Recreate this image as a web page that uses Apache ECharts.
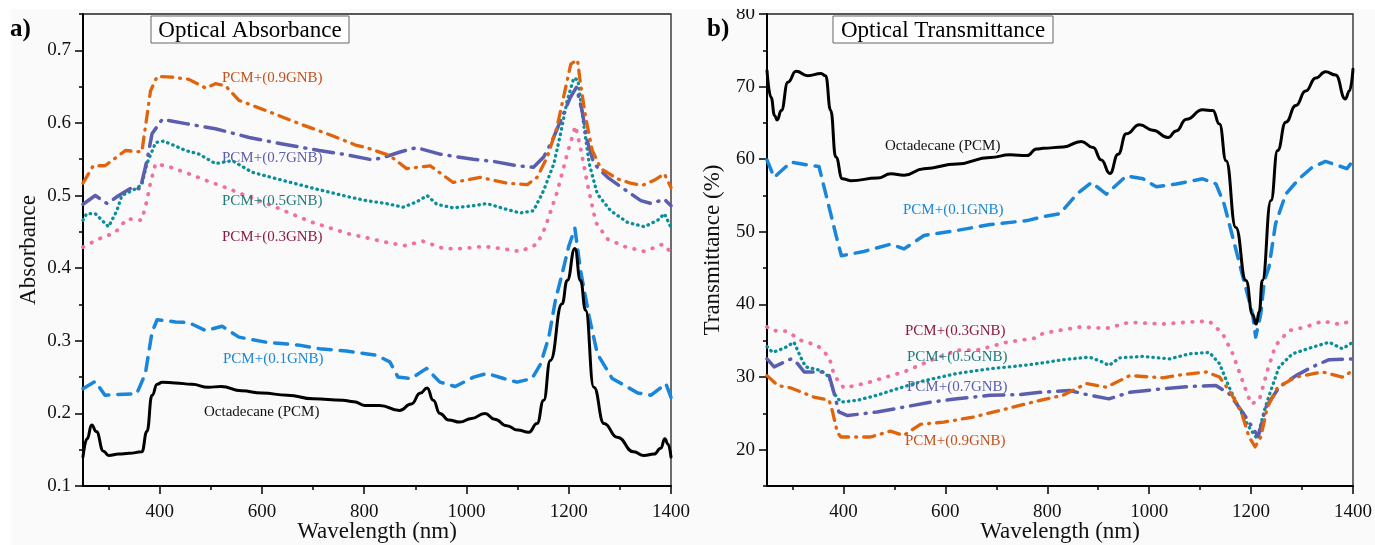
<!DOCTYPE html>
<html>
<head>
<meta charset="utf-8">
<script src="https://cdn.jsdelivr.net/npm/echarts@6/dist/echarts.min.js"></script>
<style>
html,body{margin:0;padding:0;background:#fff;}
#c{width:1375px;height:545px;}
</style>
</head>
<body>
<div id="c"></div>
<script>
// ---------- DATA ----------
var xMajorTicks = [400, 600, 800, 1000, 1200, 1400];
var xMinorTicks = [300, 500, 700, 900, 1100, 1300];
var absMajorTicks = [0.1, 0.2, 0.3, 0.4, 0.5, 0.6, 0.7];
var absMinorTicks = [0.15, 0.25, 0.35, 0.45, 0.55, 0.65, 0.75];
var trMajorTicks = [20, 30, 40, 50, 60, 70, 80];
var trMinorTicks = [15, 25, 35, 45, 55, 65, 75];

var seriesNames = ['Octadecane (PCM)', 'PCM+(0.1GNB)', 'PCM+(0.3GNB)', 'PCM+(0.5GNB)', 'PCM+(0.7GNB)', 'PCM+(0.9GNB)'];

// Panel a) Optical absorbance
var absOcta = [[250,0.140],[258,0.165],[267,0.184],[276,0.175],[290,0.148],[300,0.142],[320,0.144],[340,0.145],[365,0.147],[375,0.175],[385,0.225],[395,0.240],[405,0.243],[430,0.242],[463,0.240],[495,0.236],[520,0.237],[560,0.231],[600,0.228],[650,0.225],[700,0.220],[758,0.218],[780,0.216],[801,0.211],[830,0.211],[869,0.204],[892,0.213],[910,0.228],[923,0.235],[935,0.218],[948,0.200],[965,0.191],[987,0.188],[1010,0.193],[1036,0.200],[1055,0.192],[1079,0.183],[1100,0.177],[1122,0.174],[1138,0.186],[1151,0.218],[1164,0.273],[1187,0.351],[1197,0.383],[1212,0.427],[1223,0.383],[1233,0.342],[1249,0.236],[1269,0.186],[1295,0.167],[1327,0.147],[1347,0.142],[1367,0.144],[1380,0.152],[1388,0.165],[1394,0.158],[1400,0.140]];
var absGnb01 = [[250,0.234],[274,0.244],[293,0.225],[319,0.226],[355,0.227],[372,0.255],[385,0.312],[395,0.329],[431,0.326],[457,0.325],[490,0.314],[522,0.320],[555,0.305],[608,0.298],[673,0.294],[712,0.289],[765,0.286],[824,0.280],[850,0.271],[866,0.250],[892,0.248],[922,0.262],[948,0.243],[978,0.237],[1014,0.250],[1040,0.255],[1073,0.248],[1099,0.243],[1128,0.248],[1145,0.268],[1161,0.305],[1174,0.356],[1187,0.392],[1200,0.430],[1212,0.455],[1223,0.397],[1240,0.333],[1256,0.282],[1285,0.248],[1308,0.239],[1335,0.228],[1361,0.225],[1390,0.241],[1400,0.222]];
var absGnb03 = [[250,0.429],[280,0.440],[313,0.449],[336,0.468],[365,0.466],[375,0.493],[382,0.518],[392,0.544],[421,0.539],[457,0.530],[490,0.521],[529,0.511],[568,0.500],[627,0.484],[667,0.472],[699,0.463],[739,0.454],[771,0.447],[804,0.442],[840,0.436],[879,0.431],[915,0.437],[955,0.427],[994,0.427],[1033,0.430],[1069,0.427],[1105,0.423],[1138,0.433],[1154,0.456],[1177,0.504],[1197,0.557],[1213,0.596],[1223,0.566],[1236,0.518],[1253,0.463],[1276,0.440],[1312,0.429],[1348,0.423],[1384,0.433],[1400,0.422]];
var absGnb05 = [[250,0.466],[257,0.475],[274,0.475],[300,0.457],[316,0.479],[326,0.500],[352,0.509],[365,0.515],[375,0.544],[392,0.573],[408,0.575],[451,0.562],[477,0.557],[509,0.544],[542,0.548],[581,0.532],[640,0.521],[706,0.509],[771,0.498],[804,0.493],[843,0.489],[876,0.484],[902,0.491],[923,0.500],[942,0.488],[974,0.483],[1014,0.486],[1040,0.489],[1073,0.482],[1105,0.476],[1131,0.479],[1151,0.507],[1171,0.544],[1184,0.585],[1197,0.631],[1210,0.662],[1218,0.659],[1230,0.594],[1240,0.544],[1256,0.502],[1282,0.479],[1315,0.463],[1348,0.457],[1374,0.466],[1387,0.475],[1400,0.456]];
var absGnb07 = [[250,0.488],[274,0.500],[297,0.489],[320,0.500],[346,0.511],[362,0.509],[375,0.548],[385,0.585],[405,0.605],[451,0.599],[509,0.592],[575,0.580],[640,0.571],[712,0.562],[758,0.557],[817,0.549],[840,0.553],[870,0.560],[902,0.566],[948,0.557],[1013,0.550],[1053,0.547],[1099,0.541],[1131,0.539],[1151,0.553],[1168,0.576],[1184,0.603],[1203,0.635],[1215,0.649],[1226,0.617],[1236,0.576],[1249,0.544],[1276,0.525],[1308,0.509],[1341,0.493],[1361,0.489],[1387,0.495],[1400,0.486]];
var absGnb09 = [[250,0.517],[270,0.541],[293,0.541],[333,0.562],[365,0.560],[372,0.594],[382,0.644],[395,0.664],[424,0.663],[457,0.660],[490,0.648],[509,0.654],[529,0.651],[555,0.631],[608,0.617],[673,0.599],[739,0.582],[785,0.569],[804,0.566],[850,0.555],[883,0.537],[929,0.541],[974,0.518],[1027,0.525],[1079,0.517],[1119,0.515],[1138,0.525],[1158,0.553],[1177,0.594],[1194,0.649],[1204,0.681],[1217,0.687],[1223,0.654],[1233,0.608],[1246,0.562],[1263,0.537],[1295,0.523],[1321,0.517],[1344,0.514],[1367,0.521],[1387,0.530],[1400,0.511]];

// Panel b) Optical transmittance (%)
var trOcta = [[250,72.2],[258,68.5],[265,66.0],[270,65.4],[278,66.7],[291,70.6],[307,72.1],[330,71.5],[356,71.8],[365,71.5],[375,66.7],[385,60.3],[398,57.3],[414,57.05],[467,57.4],[493,58.0],[519,57.8],[558,58.7],[623,59.35],[688,60.25],[727,60.6],[760,60.5],[779,61.4],[792,61.5],[831,61.7],[867,62.45],[890,61.6],[906,59.9],[923,58.05],[939,60.7],[955,63.5],[981,64.75],[1007,64.0],[1037,63.0],[1053,63.9],[1073,65.5],[1105,66.8],[1125,66.7],[1138,64.85],[1151,59.8],[1170,50.6],[1190,43.3],[1203,38.6],[1210,37.3],[1216,39.0],[1222,43.3],[1239,54.3],[1252,61.2],[1268,65.1],[1288,67.4],[1307,69.4],[1327,71.2],[1346,72.05],[1366,71.6],[1385,68.3],[1393,69.4],[1400,72.4]];
var trGnb01 = [[250,59.9],[264,57.5],[297,59.6],[330,59.2],[352,59.0],[375,52.5],[388,48.8],[396,46.7],[440,47.3],[493,48.3],[519,47.65],[558,49.5],[623,50.2],[688,51.0],[760,51.55],[792,52.1],[825,52.5],[858,55.2],[887,56.8],[916,55.2],[955,57.7],[988,57.3],[1014,56.2],[1053,56.6],[1105,57.3],[1131,56.6],[1147,53.85],[1164,49.25],[1185,43.5],[1203,38.7],[1209,35.5],[1219,38.7],[1226,43.3],[1235,45.1],[1248,51.1],[1268,55.2],[1294,57.3],[1320,58.9],[1346,59.7],[1372,59.1],[1388,58.7],[1400,59.8]];
var trGnb03 = [[250,36.9],[261,36.4],[290,36.3],[316,35.05],[349,34.35],[372,32.75],[382,30.2],[401,28.5],[447,29.2],[479,29.9],[518,30.7],[571,32.3],[623,33.7],[662,33.7],[721,34.8],[779,35.4],[792,36.05],[864,36.9],[916,36.7],[962,37.55],[1027,37.3],[1072,37.55],[1118,37.7],[1144,36.0],[1164,33.2],[1183,29.5],[1200,26.3],[1216,26.8],[1232,30.9],[1248,34.35],[1274,36.4],[1307,36.9],[1340,37.7],[1375,37.25],[1400,37.8]];
var trGnb05 = [[250,34.2],[261,33.4],[284,34.0],[303,34.8],[316,32.75],[326,31.4],[356,30.9],[372,30.0],[382,27.7],[395,26.55],[427,26.8],[466,27.5],[506,28.4],[558,29.5],[623,30.5],[688,31.15],[753,31.6],[786,31.9],[831,32.4],[883,32.75],[909,32.05],[921,31.6],[942,32.65],[988,32.85],[1040,32.5],[1079,33.2],[1118,33.4],[1138,31.85],[1157,28.6],[1177,25.65],[1196,23.1],[1212,21.5],[1226,25.4],[1239,28.2],[1255,31.4],[1281,33.2],[1320,34.1],[1353,34.8],[1379,33.9],[1400,34.8]];
var trGnb07 = [[250,32.5],[264,31.4],[297,32.5],[310,31.85],[323,30.7],[362,30.7],[372,30.2],[382,27.7],[391,25.2],[408,24.7],[466,25.2],[518,25.85],[571,26.55],[623,27.0],[688,27.5],[747,27.6],[786,27.9],[844,28.15],[883,27.5],[921,27.0],[962,27.9],[1027,28.4],[1079,28.7],[1131,28.85],[1157,27.7],[1183,25.2],[1200,23.35],[1214,21.8],[1229,25.85],[1255,28.6],[1288,30.2],[1320,31.4],[1353,32.4],[1400,32.5]];
var trGnb09 = [[250,30.2],[271,28.85],[297,28.5],[342,27.25],[372,26.8],[378,25.4],[388,22.4],[395,21.75],[453,21.75],[492,22.55],[518,21.95],[551,23.5],[597,23.8],[655,24.5],[721,25.65],[786,26.8],[831,27.5],[877,29.1],[916,28.6],[962,30.2],[1027,29.9],[1066,30.35],[1112,30.7],[1138,30.0],[1157,28.15],[1180,25.4],[1196,21.75],[1208,20.4],[1219,21.75],[1232,25.85],[1252,28.6],[1288,30.0],[1340,30.7],[1379,30.0],[1400,30.9]];

// ---------- STYLE ----------
var SERIF = "'Liberation Serif','Times New Roman','DejaVu Serif',serif";
var C_BLACK = '#000000', C_BLUE = '#1a86d9', C_PINK = '#f0709f', C_TEAL = '#0a8f9a', C_SLATE = '#5b5eae', C_ORANGE = '#e0640c';

var chart = echarts.init(document.getElementById('c'), null, {renderer: 'canvas'});

function plain(v) { return String(v); }

function xAxes(g) {
  return [
    {type: 'value', gridIndex: g, position: 'bottom', min: 250, max: 1400,
      name: 'Wavelength (nm)', nameLocation: 'middle', nameGap: 34, nameMoveOverlap: false,
      nameTextStyle: {fontFamily: SERIF, fontSize: 23, color: '#111'},
      axisLine: {show: true, onZero: false, lineStyle: {color: '#000', width: 2}},
      axisTick: {show: true, length: 8, customValues: xMajorTicks, lineStyle: {color: '#000', width: 1.5}},
      axisLabel: {customValues: xMajorTicks, formatter: plain, fontFamily: SERIF, fontSize: 19, color: '#111', margin: 17},
      splitLine: {show: false}},
    {type: 'value', gridIndex: g, position: 'bottom', offset: 0, min: 250, max: 1400,
      axisLine: {show: false, onZero: false},
      axisTick: {show: true, length: 4, customValues: xMinorTicks, lineStyle: {color: '#000', width: 1.5}},
      axisLabel: {show: false}, splitLine: {show: false}}
  ];
}
function yAxes(g, mn, mx, major, minor, name) {
  return [
    {type: 'value', gridIndex: g, position: 'left', min: mn, max: mx,
      name: name, nameLocation: 'middle', nameGap: 43,
      nameTextStyle: {fontFamily: SERIF, fontSize: 23, color: '#111'},
      axisLine: {show: true, onZero: false, lineStyle: {color: '#000', width: 2}},
      axisTick: {show: true, length: 8, customValues: major, lineStyle: {color: '#000', width: 1.5}},
      axisLabel: {customValues: major, formatter: plain, fontFamily: SERIF, fontSize: 19, color: '#111', margin: 12},
      splitLine: {show: false}},
    {type: 'value', gridIndex: g, position: 'left', offset: 0, min: mn, max: mx,
      axisLine: {show: false, onZero: false},
      axisTick: {show: true, length: 4, customValues: minor, lineStyle: {color: '#000', width: 1.5}},
      axisLabel: {show: false}, splitLine: {show: false}}
  ];
}

function mk(name, data, xi, yi, color, width, dash, smooth, z) {
  return {
    name: name, type: 'line', xAxisIndex: xi, yAxisIndex: yi, data: data,
    showSymbol: false, symbol: 'none', smooth: smooth ? 0.5 : false,
    smoothMonotone: smooth ? 'x' : undefined, z: z || 2,
    lineStyle: {color: color, width: width, type: dash, cap: 'round', join: 'round'},
    silent: true
  };
}

var DASH_BLUE = [13, 9];
var DOT_PINK = [0.5, 9];
var DOT_TEAL = [0.5, 5];
var DASHDOT_SLATE = [20, 8, 1, 8];
var DASHDOT_ORANGE = [11, 7, 1, 7];

var series = [
  mk(seriesNames[1], absGnb01, 0, 0, C_BLUE, 3.5, DASH_BLUE, false, 2),
  mk(seriesNames[2], absGnb03, 0, 0, C_PINK, 3.8, DOT_PINK, false, 2),
  mk(seriesNames[3], absGnb05, 0, 0, C_TEAL, 3.3, DOT_TEAL, false, 2),
  mk(seriesNames[4], absGnb07, 0, 0, C_SLATE, 3.5, DASHDOT_SLATE, false, 2),
  mk(seriesNames[5], absGnb09, 0, 0, C_ORANGE, 3.3, DASHDOT_ORANGE, false, 2),
  mk(seriesNames[0], absOcta, 0, 0, C_BLACK, 3, 'solid', true, 3),
  mk(seriesNames[1], trGnb01, 2, 2, C_BLUE, 3.5, DASH_BLUE, false, 2),
  mk(seriesNames[2], trGnb03, 2, 2, C_PINK, 3.8, DOT_PINK, false, 2),
  mk(seriesNames[3], trGnb05, 2, 2, C_TEAL, 3.3, DOT_TEAL, false, 2),
  mk(seriesNames[4], trGnb07, 2, 2, C_SLATE, 3.5, DASHDOT_SLATE, false, 2),
  mk(seriesNames[5], trGnb09, 2, 2, C_ORANGE, 3.3, DASHDOT_ORANGE, false, 2),
  mk(seriesNames[0], trOcta, 2, 2, C_BLACK, 3, 'solid', true, 3)
];

function lbl(text, x, y, color) {
  return {type: 'text', x: x, y: y, z: 50,
    style: {text: text, fill: color, font: '15px ' + SERIF, textVerticalAlign: 'middle', textAlign: 'left'}};
}
function titleBox(text, x, y, w, h) {
  return {type: 'group', x: x, y: y, z: 60, children: [
    {type: 'rect', shape: {x: 0, y: 0, width: w, height: h}, style: {fill: '#ffffff', stroke: '#666', lineWidth: 1}},
    {type: 'text', x: w / 2, y: h / 2 + 1, style: {text: text, fill: '#000', font: '23px ' + SERIF, textAlign: 'center', textVerticalAlign: 'middle'}}
  ]};
}

var graphics = [
  {type: 'rect', z: 100, shape: {x: 0, y: 0, width: 1375, height: 9}, style: {fill: '#ffffff'}},
  {type: 'rect', z: -1, shape: {x: 0, y: 0, width: 11, height: 545}, style: {fill: '#ffffff'}},
  {type: 'text', x: 10, y: 30, z: 60, style: {text: 'a)', fill: '#000', font: 'bold 25px ' + SERIF, textVerticalAlign: 'middle'}},
  {type: 'text', x: 707, y: 30, z: 60, style: {text: 'b)', fill: '#000', font: 'bold 25px ' + SERIF, textVerticalAlign: 'middle'}},
  titleBox('Optical Absorbance', 151, 16, 198, 27),
  titleBox('Optical Transmittance', 833, 16, 220, 27),
  lbl('PCM+(0.9GNB)', 222, 78, '#c4511d'),
  lbl('PCM+(0.7GNB)', 222, 158, C_SLATE),
  lbl('PCM+(0.5GNB)', 222, 201, '#1f7a7c'),
  lbl('PCM+(0.3GNB)', 222, 237, '#8a1c40'),
  lbl('PCM+(0.1GNB)', 223, 359, C_BLUE),
  lbl('Octadecane (PCM)', 204, 412, '#111'),
  lbl('Octadecane (PCM)', 885, 146, '#111'),
  lbl('PCM+(0.1GNB)', 903, 210, C_BLUE),
  lbl('PCM+(0.3GNB)', 905, 331, '#8a1c40'),
  lbl('PCM+(0.5GNB)', 907, 357, '#1f7a7c'),
  lbl('PCM+(0.7GNB)', 907, 387, C_SLATE),
  lbl('PCM+(0.9GNB)', 905, 441, '#c4511d')
];

var option = {
  animation: false,
  backgroundColor: '#fafafa',
  grid: [
    {left: 83, top: 14, width: 588, bottom: 59, containLabel: false, outerBoundsMode: 'none', show: true, borderColor: '#222', borderWidth: 1.3, backgroundColor: 'transparent'},
    {left: 767, top: 14, width: 586, bottom: 59, containLabel: false, outerBoundsMode: 'none', show: true, borderColor: '#222', borderWidth: 1.3, backgroundColor: 'transparent'}
  ],
  xAxis: xAxes(0).concat(xAxes(1)),
  yAxis: yAxes(0, 0.1, 0.75, absMajorTicks, absMinorTicks, 'Absorbance')
    .concat(yAxes(1, 15, 80, trMajorTicks, trMinorTicks, 'Transmittance (%)')),
  series: series,
  graphic: graphics
};
chart.setOption(option);
</script>
</body>
</html>
